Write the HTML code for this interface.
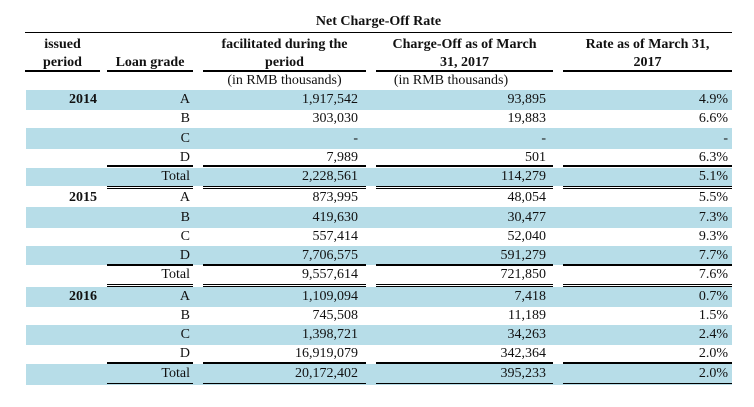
<!DOCTYPE html>
<html><head><meta charset="utf-8"><style>
body{margin:0;width:754px;height:407px;background:#fff;position:relative;overflow:hidden;font-family:"Liberation Serif",serif;font-size:14px;color:#111}
div{position:absolute}
.b{background:#b7dde8;left:26px;width:706px}
.r{text-align:right;white-space:nowrap}
.c{text-align:center;white-space:nowrap}
.h{font-weight:bold}
.ln{background:#000}
</style></head><body>
<div class="h c" style="left:25px;width:707px;top:13px;line-height:18px">Net Charge-Off Rate</div>
<div class="ln" style="left:25px;width:707px;top:32px;height:1px"></div>
<div class="h c" style="left:25px;width:75px;top:36px;line-height:18px">issued<br>period</div>
<div class="h c" style="left:107px;width:86px;top:54px;line-height:18px">Loan grade</div>
<div class="h c" style="left:203px;width:163px;top:36px;line-height:18px">facilitated during the<br>period</div>
<div class="h c" style="left:376px;width:177px;top:36px;line-height:18px">Charge-Off as of March<br>31, 2017</div>
<div class="h c" style="left:563px;width:169px;top:36px;line-height:18px">Rate as of March 31,<br>2017</div>
<div class="ln" style="left:25px;width:75px;top:70px;height:2px"></div>
<div class="ln" style="left:107px;width:86px;top:70px;height:2px"></div>
<div class="ln" style="left:203px;width:163px;top:70px;height:2px"></div>
<div class="ln" style="left:376px;width:177px;top:70px;height:2px"></div>
<div class="ln" style="left:563px;width:169px;top:70px;height:2px"></div>
<div class="c" style="left:203px;width:163px;top:72px;line-height:18px">(in RMB thousands)</div>
<div class="c" style="left:376px;width:150px;top:72px;line-height:18px">(in RMB thousands)</div>

<div class="b" style="top:90px;height:20px"></div>
<div class="b" style="top:128px;height:21px"></div>
<div class="b" style="top:168px;height:18px"></div>
<div class="b" style="top:207px;height:21px"></div>
<div class="b" style="top:246px;height:19px"></div>
<div class="b" style="top:287px;height:20px"></div>
<div class="b" style="top:325px;height:20px"></div>
<div class="b" style="top:364px;height:21px"></div>

<div class="ln" style="left:107px;width:86px;top:165px;height:2px"></div>
<div class="ln" style="left:203px;width:163px;top:165px;height:2px"></div>
<div class="ln" style="left:376px;width:177px;top:165px;height:2px"></div>
<div class="ln" style="left:563px;width:169px;top:165px;height:2px"></div>
<div class="ln" style="left:107px;width:86px;top:186px;height:1px"></div><div class="ln" style="left:107px;width:86px;top:188px;height:1px"></div>
<div class="ln" style="left:203px;width:163px;top:186px;height:1px"></div><div class="ln" style="left:203px;width:163px;top:188px;height:1px"></div>
<div class="ln" style="left:376px;width:177px;top:186px;height:1px"></div><div class="ln" style="left:376px;width:177px;top:188px;height:1px"></div>
<div class="ln" style="left:563px;width:169px;top:186px;height:1px"></div><div class="ln" style="left:563px;width:169px;top:188px;height:1px"></div>

<div class="ln" style="left:107px;width:86px;top:264px;height:2px"></div>
<div class="ln" style="left:203px;width:163px;top:264px;height:2px"></div>
<div class="ln" style="left:376px;width:177px;top:264px;height:2px"></div>
<div class="ln" style="left:563px;width:169px;top:264px;height:2px"></div>
<div class="ln" style="left:107px;width:86px;top:284px;height:1px"></div><div class="ln" style="left:107px;width:86px;top:286px;height:1px"></div>
<div class="ln" style="left:203px;width:163px;top:284px;height:1px"></div><div class="ln" style="left:203px;width:163px;top:286px;height:1px"></div>
<div class="ln" style="left:376px;width:177px;top:284px;height:1px"></div><div class="ln" style="left:376px;width:177px;top:286px;height:1px"></div>
<div class="ln" style="left:563px;width:169px;top:284px;height:1px"></div><div class="ln" style="left:563px;width:169px;top:286px;height:1px"></div>

<div class="ln" style="left:107px;width:86px;top:362px;height:2px"></div>
<div class="ln" style="left:203px;width:163px;top:362px;height:2px"></div>
<div class="ln" style="left:376px;width:177px;top:362px;height:2px"></div>
<div class="ln" style="left:563px;width:169px;top:362px;height:2px"></div>
<div class="ln" style="left:107px;width:86px;top:383px;height:1px"></div>
<div class="ln" style="left:203px;width:163px;top:383px;height:1px"></div>
<div class="ln" style="left:376px;width:177px;top:383px;height:1px"></div>
<div class="ln" style="left:563px;width:169px;top:383px;height:1px"></div>

<div style="left:0;top:90px;width:754px;height:20px;line-height:20px">
<div class="r h" style="right:657px">2014</div><div class="r" style="right:564px">A</div><div class="r" style="right:396px">1,917,542</div><div class="r" style="right:208px">93,895</div><div class="r" style="right:26px">4.9%</div></div>
<div style="left:0;top:110px;width:754px;height:18px;line-height:18px">
<div class="r" style="right:564px">B</div><div class="r" style="right:396px">303,030</div><div class="r" style="right:208px">19,883</div><div class="r" style="right:26px">6.6%</div></div>
<div style="left:0;top:128px;width:754px;height:21px;line-height:21px">
<div class="r" style="right:564px">C</div><div class="r" style="right:396px">-</div><div class="r" style="right:208px">-</div><div class="r" style="right:26px">-</div></div>
<div style="left:0;top:149px;width:754px;height:17px;line-height:18px">
<div class="r" style="right:564px">D</div><div class="r" style="right:396px">7,989</div><div class="r" style="right:208px">501</div><div class="r" style="right:26px">6.3%</div></div>
<div style="left:0;top:167px;width:754px;height:19px;line-height:19px">
<div class="r" style="right:564px">Total</div><div class="r" style="right:396px">2,228,561</div><div class="r" style="right:208px">114,279</div><div class="r" style="right:26px">5.1%</div></div>

<div style="left:0;top:189px;width:754px;height:18px;line-height:18px">
<div class="r h" style="right:657px">2015</div><div class="r" style="right:564px">A</div><div class="r" style="right:396px">873,995</div><div class="r" style="right:208px">48,054</div><div class="r" style="right:26px">5.5%</div></div>
<div style="left:0;top:207px;width:754px;height:21px;line-height:21px">
<div class="r" style="right:564px">B</div><div class="r" style="right:396px">419,630</div><div class="r" style="right:208px">30,477</div><div class="r" style="right:26px">7.3%</div></div>
<div style="left:0;top:228px;width:754px;height:18px;line-height:18px">
<div class="r" style="right:564px">C</div><div class="r" style="right:396px">557,414</div><div class="r" style="right:208px">52,040</div><div class="r" style="right:26px">9.3%</div></div>
<div style="left:0;top:246px;width:754px;height:19px;line-height:20px">
<div class="r" style="right:564px">D</div><div class="r" style="right:396px">7,706,575</div><div class="r" style="right:208px">591,279</div><div class="r" style="right:26px">7.7%</div></div>
<div style="left:0;top:266px;width:754px;height:18px;line-height:18px">
<div class="r" style="right:564px">Total</div><div class="r" style="right:396px">9,557,614</div><div class="r" style="right:208px">721,850</div><div class="r" style="right:26px">7.6%</div></div>

<div style="left:0;top:287px;width:754px;height:20px;line-height:20px">
<div class="r h" style="right:657px">2016</div><div class="r" style="right:564px">A</div><div class="r" style="right:396px">1,109,094</div><div class="r" style="right:208px">7,418</div><div class="r" style="right:26px">0.7%</div></div>
<div style="left:0;top:307px;width:754px;height:18px;line-height:18px">
<div class="r" style="right:564px">B</div><div class="r" style="right:396px">745,508</div><div class="r" style="right:208px">11,189</div><div class="r" style="right:26px">1.5%</div></div>
<div style="left:0;top:325px;width:754px;height:20px;line-height:20px">
<div class="r" style="right:564px">C</div><div class="r" style="right:396px">1,398,721</div><div class="r" style="right:208px">34,263</div><div class="r" style="right:26px">2.4%</div></div>
<div style="left:0;top:345px;width:754px;height:17px;line-height:18px">
<div class="r" style="right:564px">D</div><div class="r" style="right:396px">16,919,079</div><div class="r" style="right:208px">342,364</div><div class="r" style="right:26px">2.0%</div></div>
<div style="left:0;top:364px;width:754px;height:19px;line-height:19px">
<div class="r" style="right:564px">Total</div><div class="r" style="right:396px">20,172,402</div><div class="r" style="right:208px">395,233</div><div class="r" style="right:26px">2.0%</div></div>
</body></html>
